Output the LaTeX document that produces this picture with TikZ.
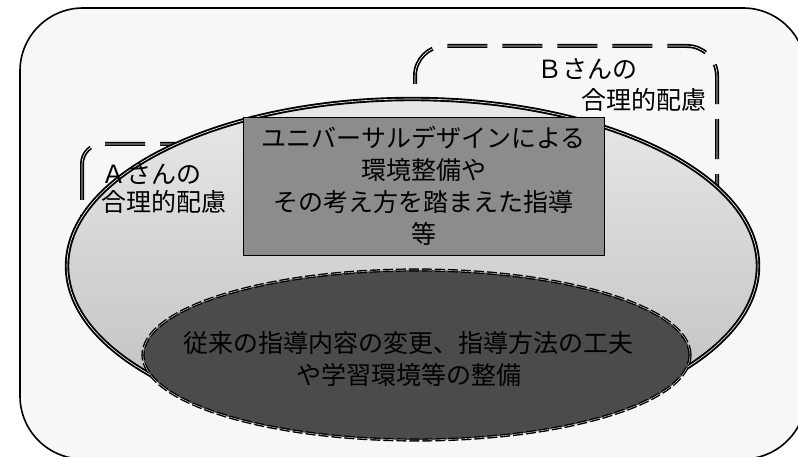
\documentclass[tikz,border=0pt]{standalone}
\usepackage{fontspec}
\setmainfont{Noto Sans CJK JP}
\definecolor{outerfill}{HTML}{F7F7F7}
\definecolor{elTop}{HTML}{E8E8E8}
\definecolor{elBot}{HTML}{BEBEBE}
\definecolor{rectfill}{HTML}{8C8C8C}
\definecolor{darkfill}{HTML}{4B4B4B}
\begin{document}
\begin{tikzpicture}[x=1pt,y=-1pt,
  dbox/.style={draw=black, line width=1.7pt, double=white, double distance=0.6pt, dash pattern=on 40pt off 15pt},
  txt/.style={font=\fontsize{25}{32}\selectfont, text=black, inner sep=0pt},
  bigell/.style={line width=1.9pt, double=white, double distance=0.6pt},
  darkout/.style={draw=black, line width=3.2pt, dash pattern=on 10pt off 3pt},
  darkin/.style={draw=white, line width=0.35pt, dash pattern=on 10pt off 3pt}]
\useasboundingbox (0,0) rectangle (798,457);
\fill[white] (0,0) rectangle (798,457);
% outer frame
\draw[line width=1.6pt, fill=outerfill, rounded corners=63pt] (20,8) rectangle (806,459);
% A and B dashed boxes
\draw[dbox, dash phase=4pt, rounded corners=20pt] (82,144) rectangle (590,266);
\draw[dbox, dash phase=32pt, rounded corners=30pt] (415,46) rectangle (717,266);
% big ellipse
\shade[top color=elTop, bottom color=elBot] (412.5,266) ellipse [x radius=345.5pt, y radius=167pt];
\begin{scope}
  \clip (412.5,266) ellipse [x radius=345.5pt, y radius=167pt];
  \foreach \i in {0,...,39}{
    \pgfmathsetmacro{\ya}{160+2*\i}
    \pgfmathsetmacro{\yb}{\ya+2}
    \pgfmathsetmacro{\op}{0.95*(\i+1)/40}
    \begin{scope}
      \clip (0,\ya) rectangle (798,\yb);
      \shade[top color=elTop, bottom color=elBot, fill opacity=\op] (412.5,266) ellipse [x radius=345.5pt, y radius=167pt];
    \end{scope}
  }
  \begin{scope}
    \clip (0,240) rectangle (798,460);
    \shade[top color=elTop, bottom color=elBot, fill opacity=0.95] (412.5,266) ellipse [x radius=345.5pt, y radius=167pt];
  \end{scope}
\end{scope}
\draw[bigell] (412.5,266) ellipse [x radius=345.5pt, y radius=167pt];
% dark ellipse
\fill[darkfill] (416.5,355) ellipse [x radius=273.5pt, y radius=85pt];
\draw[darkout] (416.5,355) ellipse [x radius=273.5pt, y radius=85pt];
\draw[darkin] (416.5,355) ellipse [x radius=273.5pt, y radius=85pt];
% gray box with text
\node[txt, draw=black, line width=0.9pt, fill=rectfill, minimum width=361pt, minimum height=138pt, align=center] (ud) at (423.5,186)
  {ユニバーサルデザインによる\\環境整備や\\その考え方を踏まえた指導\\等};
% dark ellipse text
\node[txt, align=center] (trad) at (408.5,359) {従来の指導内容の変更、指導方法の工夫\\や学習環境等の整備};
% labels
\node[txt, font=\fontsize{25}{28}\selectfont, align=left, anchor=west] (alabel) at (101,189) {Ａさんの\\合理的配慮};
\node[txt, anchor=base west] (blabel1) at (537,78.5) {Ｂさんの};
\node[txt, anchor=base west] (blabel2) at (581.5,109.5) {合理的配慮};
\end{tikzpicture}
\end{document}
